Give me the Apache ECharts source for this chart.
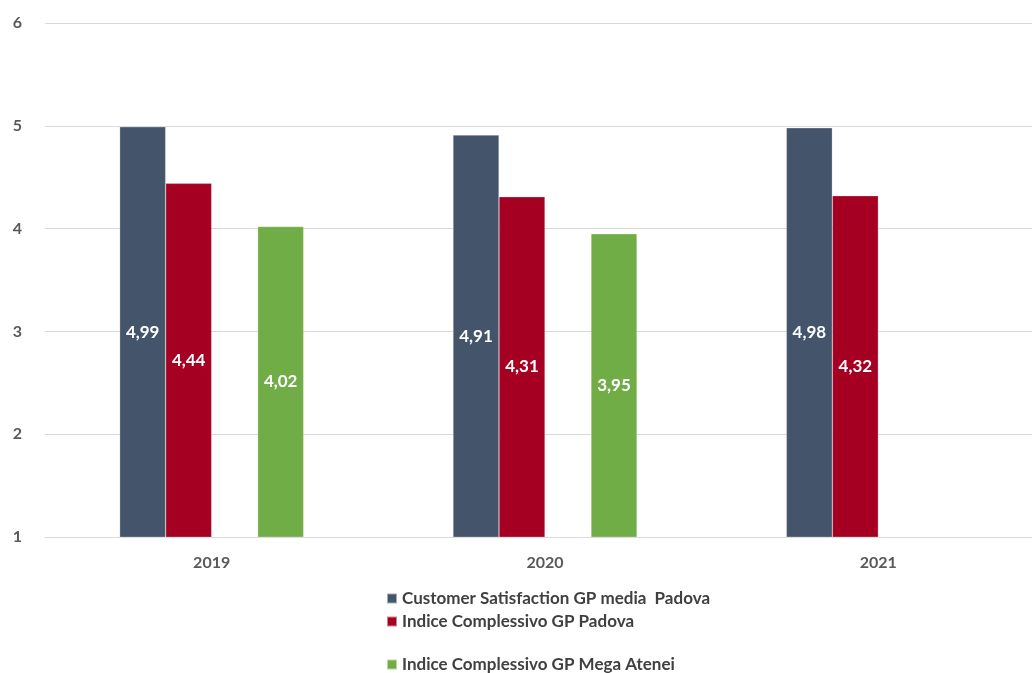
<!DOCTYPE html>
<html>
<head>
<meta charset="utf-8">
<script src="https://cdn.jsdelivr.net/npm/echarts@6/dist/echarts.min.js"></script>
<style>
  html, body { margin: 0; padding: 0; background: #fff; overflow: hidden; }
  /* plot area in the reference runs a little past the right edge */
  #chart { width: 1045px; height: 673px; }
</style>
</head>
<body>
<div id="chart"></div>
<script>
const years = ['2019', '2020', '2021']
const customerSat = [4.99, 4.91, 4.98]
const indicePadova = [4.44, 4.31, 4.32]
const blankSlot = [null, null, null]
const indiceMega = [4.02, 3.95, null]

const seriesNames = [
  'Customer Satisfaction GP media  Padova',
  'Indice Complessivo GP Padova',
  '\u00a0',
  'Indice Complessivo GP Mega Atenei'
]

const font = 'Lato'

const chart = echarts.init(document.getElementById('chart'))

const barLabel = {
  show: true,
  position: 'inside',
  color: '#fff',
  fontFamily: font,
  fontWeight: 'bold',
  fontSize: 17,
  formatter: p => p.value.toFixed(2).replace('.', ',')
}

const makeBar = (name, data, color) => ({
  name: name,
  type: 'bar',
  data: data,
  barWidth: 46,
  barGap: '0%',
  itemStyle: { color: color, borderColor: 'rgba(255,255,255,0.5)', borderWidth: 0.5 },
  label: barLabel
})

const legendBase = {
  orient: 'vertical',
  left: 386,
  padding: 0,
  itemWidth: 10,
  itemHeight: 10,
  itemGap: 6,
  icon: 'rect',
  textStyle: { color: '#404040', fontSize: 17, lineHeight: 16, fontFamily: font, fontWeight: 'bold' }
}

const option = {
  animation: false,
  textStyle: { fontFamily: font },
  grid: { left: 45, right: 0, top: 23, bottom: 136 },
  legend: [
    Object.assign({}, legendBase, { top: 590, data: [seriesNames[0], seriesNames[1]] }),
    Object.assign({}, legendBase, { top: 656, data: [seriesNames[3]] })
  ],
  xAxis: {
    type: 'category',
    data: years,
    axisLine: { lineStyle: { color: '#d9d9d9' } },
    axisTick: { show: false },
    axisLabel: { color: '#595959', fontSize: 16, fontWeight: 'bold', margin: 18 }
  },
  yAxis: {
    type: 'value',
    min: 1,
    max: 6,
    interval: 1,
    axisLine: { show: false },
    axisTick: { show: false },
    axisLabel: { color: '#595959', fontSize: 16, fontWeight: 'bold', margin: 23 },
    splitLine: { lineStyle: { color: '#d9d9d9', width: 1 } }
  },
  series: [
    makeBar(seriesNames[0], customerSat, '#44546a'),
    makeBar(seriesNames[1], indicePadova, '#a50021'),
    makeBar(seriesNames[2], blankSlot, '#ffffff'),
    makeBar(seriesNames[3], indiceMega, '#70ad47')
  ]
}

chart.setOption(option)
</script>
</body>
</html>
